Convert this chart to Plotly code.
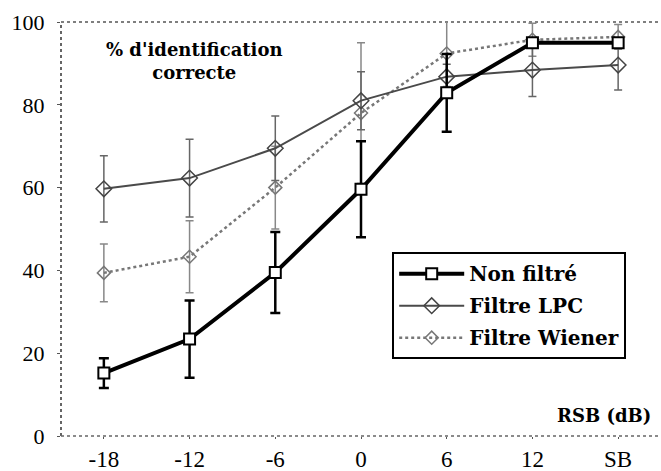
import plotly.graph_objects as go

categories = ["-18", "-12", "-6", "0", "6", "12", "SB"]

non_filtre = [15.2, 23.4, 39.5, 59.6, 82.9, 95.0, 95.0]
non_filtre_err = [3.6, 9.3, 9.8, 11.6, 9.4, 0.0, 0.0]

lpc = [59.7, 62.3, 69.5, 81.0, 86.8, 88.4, 89.6]
lpc_err = [8.0, 9.4, 7.8, 7.0, 3.0, 6.4, 6.0]

wiener = [39.4, 43.3, 60.0, 78.0, 92.4, 95.7, 96.4]
wiener_err = [7.0, 8.7, 10.0, 17.0, 8.0, 4.0, 3.0]

y_ticks = [0, 20, 40, 60, 80, 100]

SERIF = "Times New Roman"
BOLD_SERIF = "DejaVu Serif"

fig = go.Figure()

fig.add_trace(go.Scatter(
    x=categories, y=wiener, name="Filtre Wiener", mode="lines+markers",
    legendgroup="c", legendrank=3,
    line=dict(color="#777777", width=2.5, dash="dot"),
    marker=dict(symbol="diamond-open", size=10, color="#777777", line=dict(width=1.5)),
    error_y=dict(type="data", array=wiener_err, color="#888888", thickness=1.5, width=4),
))
fig.add_trace(go.Scatter(
    x=categories, y=lpc, name="Filtre LPC", mode="lines+markers",
    legendgroup="b", legendrank=2,
    line=dict(color="#4a4a4a", width=2),
    marker=dict(symbol="diamond-open", size=12, color="#444444", line=dict(width=1.5)),
    error_y=dict(type="data", array=lpc_err, color="#666666", thickness=1.5, width=4),
))
fig.add_trace(go.Scatter(
    x=categories, y=non_filtre, name="Non filtré", mode="lines+markers",
    legendgroup="a", legendrank=1,
    line=dict(color="black", width=4),
    marker=dict(symbol="square", size=11, color="white", line=dict(color="black", width=2)),
    error_y=dict(type="data", array=non_filtre_err, color="black", thickness=2.5, width=5),
))

fig.update_layout(
    width=661, height=471,
    margin=dict(l=61, r=0, t=22, b=35),
    paper_bgcolor="white", plot_bgcolor="white",
    font=dict(family=SERIF, color="black"),
    showlegend=True,
    legend=dict(
        x=0.552, y=0.444, xanchor="left", yanchor="top",
        bordercolor="black", borderwidth=2, bgcolor="white",
        font=dict(family=BOLD_SERIF, size=20, color="black", weight="bold"),
        traceorder="grouped", tracegroupgap=3, itemwidth=65,
    ),
    xaxis=dict(
        type="category", range=[-0.5, 6.5], showgrid=False, zeroline=False,
        showline=False, ticks="outside", ticklen=2, tickcolor="#555555",
        tickfont=dict(family=SERIF, size=23, color="black"),
        ticklabelstandoff=0,
        fixedrange=True,
    ),
    yaxis=dict(
        range=[0, 100], tickvals=y_ticks, showgrid=False, zeroline=False,
        showline=False, ticks="outside", ticklen=3, tickcolor="#555555",
        tickfont=dict(family=SERIF, size=22, color="black"),
        ticklabelstandoff=8,
    ),
    shapes=[
        dict(type="line", xref="paper", yref="paper", x0=0, x1=1, y0=1, y1=1,
             line=dict(color="#555555", width=1.5, dash="dot"), layer="below"),
        dict(type="line", xref="paper", yref="paper", x0=0, x1=0, y0=0, y1=1,
             line=dict(color="#333333", width=1.5, dash="dot"), layer="below"),
        dict(type="line", xref="paper", yref="paper", x0=0, x1=1, y0=0, y1=0,
             line=dict(color="#666666", width=1.5, dash="dot"), layer="below"),
    ],
    annotations=[
        dict(text="% d'identification<br>correcte", xref="paper", yref="paper",
             x=0.223, y=0.907, xanchor="center", yanchor="middle", showarrow=False,
             align="center", font=dict(family=BOLD_SERIF, size=18, color="black", weight="bold")),
        dict(text="RSB (dB)", xref="paper", yref="paper",
             x=0.987, y=0.05, xanchor="right", yanchor="middle", showarrow=False,
             font=dict(family=BOLD_SERIF, size=18, color="black", weight="bold")),
    ],
)

fig.write_html("out.html", config={"displayModeBar": False},
               post_script="document.body.style.margin='0';")
